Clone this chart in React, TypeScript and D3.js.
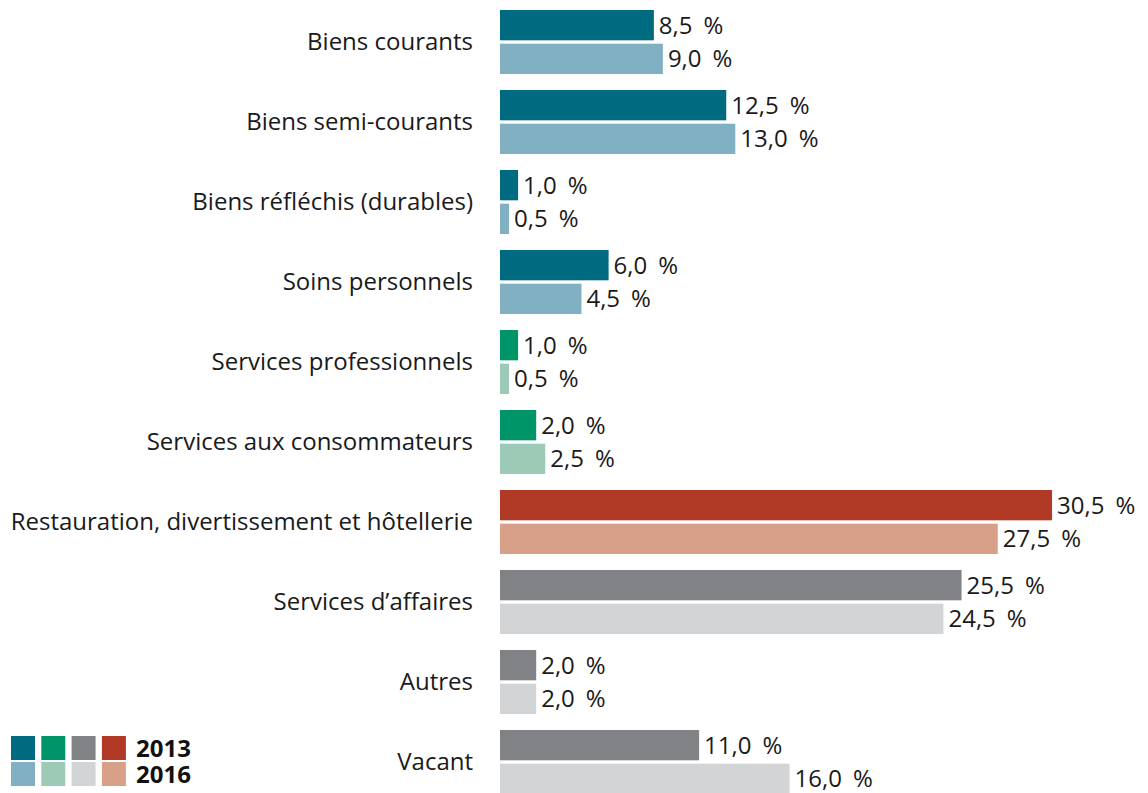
import React from 'react';
import * as d3 from 'd3';

// categories and shares (%)
const categories = [
  'Biens courants',
  'Biens semi-courants',
  'Biens réfléchis (durables)',
  'Soins personnels',
  'Services professionnels',
  'Services aux consommateurs',
  'Restauration, divertissement et hôtellerie',
  'Services d’affaires',
  'Autres',
  'Vacant',
];
const years = ['2013', '2016'];
const values2013 = [8.5, 12.5, 1.0, 6.0, 1.0, 2.0, 30.5, 25.5, 2.0, 11.0];
const values2016 = [9.0, 13.0, 0.5, 4.5, 0.5, 2.5, 27.5, 24.5, 2.0, 16.0];
// colour family per category: blue, green, red, grey
const families = ['blue', 'blue', 'blue', 'blue', 'green', 'green', 'red', 'grey', 'grey', 'grey'];

const palette: Record<string, string[]> = {
  blue: ['#006a80', '#82b0c3'],
  green: ['#009568', '#9ccab7'],
  grey: ['#818286', '#d3d4d6'],
  red: ['#b03925', '#d8a088'],
};
const legendOrder = ['blue', 'green', 'grey', 'red'];

const W = 1148;
const H = 793;
const FONT = '"Open Sans", "Noto Sans", sans-serif';

const fmtNum = (v: number) => d3.format('.1f')(v).replace('.', ',');

export default function App() {
  const x = d3.scaleLinear().domain([0, 35]).range([500, 500 + 35 * 18.1]);
  const y = d3.scaleBand<string>().domain(categories).range([2, 802]).paddingInner(0.2).paddingOuter(0.1);
  const yy = d3.scaleBand<string>().domain(years).range([0, y.bandwidth()]).paddingInner(0.1);

  const rows = categories.map((c, i) => ({
    cat: c,
    fam: families[i],
    vals: [values2013[i], values2016[i]],
  }));

  return (
    <svg width={W} height={H} style={{ position: 'absolute', left: 0, top: 0 }} fontFamily={FONT}>
      <rect width={W} height={H} fill="#fff" />
      {rows.map((r) => (
        <g key={r.cat} transform={`translate(0,${y(r.cat)})`}>
          <text x={473} y={y.bandwidth() / 2} dy="0.35em" textAnchor="end" fontSize={24} fill="#1a1a1a">
            {r.cat}
          </text>
          {years.map((yr, j) => (
            <g key={yr}>
              <rect
                x={x(0)}
                y={yy(yr)}
                width={x(r.vals[j]) - x(0)}
                height={yy.bandwidth()}
                fill={palette[r.fam][j]}
              />
              <text
                x={x(r.vals[j]) + 5}
                y={(yy(yr) as number) + yy.bandwidth() / 2}
                dy="0.36em"
                fontSize={24}
                fill="#1a1a1a"
              >
                {fmtNum(r.vals[j])}
                <tspan dx={11}>%</tspan>
              </text>
            </g>
          ))}
        </g>
      ))}
      <g transform="translate(11,736)">
        {legendOrder.map((f, i) =>
          years.map((yr, j) => (
            <rect key={f + yr} x={i * 30.3} y={j * 26} width={24} height={24} fill={palette[f][j]} />
          ))
        )}
        <text fontSize={24} fontWeight="bold" fill="#111">
          {years.map((yr, j) => (
            <tspan key={yr} x={125} y={j * 26 + 12} dy="0.36em">
              {yr}
            </tspan>
          ))}
        </text>
      </g>
    </svg>
  );
}
